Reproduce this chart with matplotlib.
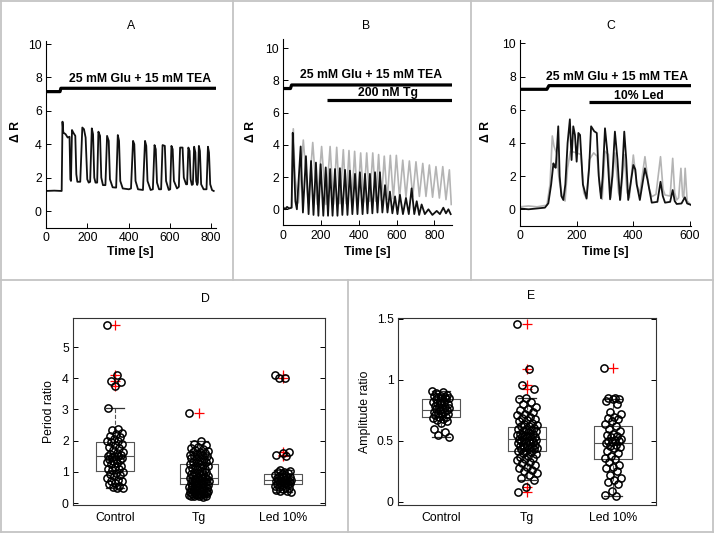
import numpy as np
import matplotlib
matplotlib.use("Agg")
import matplotlib.pyplot as plt
from matplotlib.lines import Line2D

plt.rcParams['font.family'] = ['Liberation Sans', 'DejaVu Sans']
plt.rcParams['font.size'] = 8.8

W, H = 714, 533

# ---- panel A: single trace (time [s], dR) ----
a_t = [0, 40, 76, 80, 84, 95, 105, 114, 118,
       121, 126, 132, 142, 147, 152, 166,
       176, 184, 192, 200, 207, 214,
       222, 228, 234, 240, 248,
       254, 262, 268, 276, 288,
       296, 304, 310, 323, 340,
       348, 354, 360, 372, 402, 412,
       422, 428, 434, 446, 470,
       480, 486, 492, 507, 518,
       526, 532, 538, 548, 558,
       565, 576, 582, 595, 602,
       608, 614, 620, 635, 644,
       650, 662, 668, 679, 684,
       690, 696, 701, 707, 712,
       718, 724, 728, 733, 736,
       741, 746, 752, 764, 778,
       785, 790, 796, 805, 813]
a_v = [1.2, 1.22, 1.2, 5.35, 4.7, 4.6, 4.4, 4.45, 1.9,
       1.8, 4.85, 4.7, 4.5, 2.2, 1.75, 1.75,
       5.0, 4.9, 4.4, 1.9, 1.7, 1.75,
       4.95, 4.6, 2.0, 1.7, 1.7,
       4.75, 4.5, 2.0, 1.55, 1.55,
       4.5, 4.2, 1.9, 1.42, 1.4,
       4.55, 4.2, 1.8, 1.35, 1.3, 1.35,
       4.2, 4.0, 1.8, 1.3, 1.26,
       4.2, 3.9, 1.8, 1.26, 1.3,
       3.95, 3.7, 1.7, 1.3, 1.3,
       3.95, 3.9, 1.8, 1.26, 1.3,
       3.9, 3.7, 1.8, 1.35, 1.45,
       3.8, 3.8, 2.0, 1.6, 1.6,
       3.8, 3.6, 1.9, 1.56, 1.6,
       3.85, 3.5, 1.8, 1.56, 1.7,
       3.9, 3.6, 1.6, 1.3, 1.3,
       3.85, 3.5, 1.6, 1.25, 1.2]
a_bar_t = [0, 68, 72, 825]
a_bar_v = [7.15, 7.15, 7.35, 7.35]

# ---- panel B: two traces ----
b_gray_t = [0, 44, 53, 62, 80, 106, 132, 156, 180, 203, 226, 248, 266, 283, 300,
            318, 333, 348, 363, 378, 394, 410, 426, 442, 458, 474, 490, 505, 520,
            535, 551, 567, 583, 599, 616, 633, 650, 668, 686, 703, 721, 739, 756,
            774, 791, 809, 827, 845, 862, 880, 890]
b_gray_v = [0.1, 0.1, 5.0, 2.0, 0.4, 4.3, 0.4, 4.15, 0.3, 3.9, 0.3, 3.9, 0.3, 3.85, 0.35,
            3.7, 0.35, 3.65, 0.4, 3.6, 0.4, 3.5, 0.45, 3.5, 0.5, 3.5, 0.5, 3.4, 0.55,
            3.3, 0.6, 3.35, 0.65, 3.35, 0.7, 3.05, 0.75, 3.0, 0.8, 2.95, 0.8, 2.85, 0.8,
            2.75, 0.75, 2.65, 0.7, 2.65, 0.6, 2.45, 0.3]
b_black_t = [0, 10, 20, 30, 44, 50, 56, 64, 72, 92, 104, 120, 134, 147, 160, 173, 186,
             198, 212, 225, 237, 248, 261, 274, 287, 300, 313, 327, 340, 353, 366, 380,
             393, 406, 420, 433, 446, 459, 472, 486, 499, 512, 525, 539, 552, 565, 578,
             592, 605, 618, 634, 650, 665, 680, 694, 707, 720, 733, 750, 769, 790, 813,
             830, 848, 862, 875, 887]
b_black_v = [0.1, 0.0, 0.15, 0.05, 0.1, 4.75, 3.0, 0.5, 0.0, 3.9, -0.2, 3.3, -0.3, 3.0, -0.35,
             2.9, -0.4, 2.8, -0.4, 2.6, -0.4, 2.5, -0.4, 2.5, -0.4, 2.55, -0.35, 2.45,
             -0.35, 2.4, -0.3, 2.2, -0.3, 2.3, -0.3, 2.2, -0.25, 2.2, -0.25, 2.3, -0.2,
             2.3, -0.2, 1.5, -0.2, 1.1, -0.25, 0.8, -0.3, 0.9, -0.3, 0.7, -0.3, 1.3,
             -0.3, 0.5, -0.35, 0.3, -0.3, 0.0, -0.35, -0.1, -0.3, 0.1, -0.25, 0.0, -0.3]
b_bar1_t = [0, 38, 44, 895]
b_bar1_v = [7.5, 7.5, 7.72, 7.72]
b_bar2_t = [230, 895]
b_bar2_v = [6.8, 6.8]

# ---- panel C: two traces ----
c_gray_t = [0, 30, 60, 95, 106, 114, 120, 129, 138, 150, 159, 168, 178, 200, 215, 225,
            235, 245, 260, 272, 282, 290, 300, 312, 320, 335, 348, 355, 368, 378, 386,
            400, 412, 423, 441, 455, 465, 480, 496, 505, 512, 530, 539, 546, 553, 560,
            568, 574, 578, 583, 590, 603]
c_gray_v = [0.15, 0.2, 0.15, 0.25, 1.5, 4.42, 3.8, 3.37, 1.8, 0.7, 0.5, 2.5, 3.5, 3.4, 3.3,
            1.0, 0.6, 3.0, 3.4, 3.2, 1.2, 0.6, 3.5, 3.3, 0.7, 3.4, 1.0, 0.6, 3.3, 1.0,
            0.7, 3.27, 1.5, 0.96, 3.17, 1.3, 0.76, 0.9, 3.17, 1.2, 0.86, 0.8, 3.07, 1.0,
            0.56, 0.7, 2.47, 0.8, 0.66, 2.47, 0.5, 0.26]
c_black_t = [0, 30, 60, 88, 100, 110, 118, 121, 126, 130, 135, 140, 146, 153, 160, 168,
             176, 182, 188, 194, 200, 206, 212, 222, 235, 244, 251, 262, 271, 278, 286,
             292, 300, 308, 318, 326, 335, 344, 353, 360, 368, 375, 382, 390, 400, 407,
             412, 423, 432, 441, 450, 465, 485, 496, 504, 512, 530, 539, 546, 553, 570,
             582, 590, 603]
c_black_v = [0.05, 0.0, 0.05, 0.1, 0.36, 1.5, 2.77, 2.6, 2.5, 3.5, 5.0, 2.0, 0.8, 0.56,
             1.5, 4.0, 5.42, 2.97, 5.0, 4.48, 2.87, 4.6, 4.48, 1.5, 0.66, 2.5, 5.0, 4.7,
             4.6, 2.0, 0.66, 2.0, 4.88, 3.5, 0.6, 2.0, 4.68, 3.0, 0.56, 2.0, 4.68, 3.0,
             0.56, 1.5, 2.67, 2.4, 1.5, 0.56, 1.5, 2.47, 1.8, 0.4, 0.45, 1.66, 0.8, 0.4,
             0.45, 1.16, 0.5, 0.32, 0.35, 0.72, 0.35, 0.27]
c_bar1_t = [0, 95, 102, 605]
c_bar1_v = [7.23, 7.23, 7.45, 7.45]
c_bar2_t = [243, 605]
c_bar2_v = [6.45, 6.45]

# ---- panel D: period ratio ----
groups = ['Control', 'Tg', 'Led 10%']
d_control = [5.7, 4.1, 3.9, 3.88, 3.75, 3.03, 2.38, 2.35, 2.25, 2.2, 2.15, 2.1, 2.05,
             2.0, 1.98, 1.95, 1.9, 1.85, 1.8, 1.75, 1.7, 1.65, 1.6, 1.58, 1.55, 1.52,
             1.5, 1.5, 1.48, 1.45, 1.42, 1.4, 1.38, 1.35, 1.3, 1.28, 1.25, 1.2, 1.15,
             1.1, 1.08, 1.05, 1.0, 0.95, 0.92, 0.9, 0.85, 0.8, 0.75, 0.72, 0.7, 0.65,
             0.6, 0.55, 0.5, 0.48, 0.47]
d_tg = [2.87, 2.0, 1.9, 1.85, 1.8, 1.75, 1.72, 1.7, 1.68, 1.65, 1.62, 1.6, 1.58, 1.55,
        1.55, 1.52, 1.5, 1.48, 1.45, 1.42, 1.4, 1.38, 1.35, 1.32, 1.3, 1.28, 1.25, 1.22,
        1.2, 1.18, 1.15, 1.12, 1.1, 1.08, 1.05, 1.02, 1.0, 0.98, 0.96, 0.94, 0.92, 0.9,
        0.88, 0.86, 0.85, 0.83, 0.82, 0.8, 0.79, 0.78, 0.77, 0.76, 0.75, 0.74, 0.72,
        0.7, 0.69, 0.68, 0.66, 0.65, 0.64, 0.62, 0.6, 0.59, 0.58, 0.56, 0.55, 0.54,
        0.52, 0.5, 0.49, 0.48, 0.46, 0.45, 0.44, 0.42, 0.4, 0.39, 0.38, 0.36, 0.35,
        0.34, 0.33, 0.32, 0.31, 0.3, 0.29, 0.28, 0.27, 0.26, 0.25, 0.24, 0.23, 0.22,
        0.21, 0.2]
d_led = [4.1, 4.02, 4.0, 1.65, 1.6, 1.55, 1.5, 1.05, 1.03, 1.0, 0.98, 0.95, 0.92, 0.9,
         0.88, 0.86, 0.84, 0.82, 0.8, 0.78, 0.76, 0.75, 0.74, 0.73, 0.72, 0.7, 0.69,
         0.68, 0.66, 0.65, 0.64, 0.62, 0.6, 0.58, 0.55, 0.52, 0.5, 0.48, 0.45, 0.42,
         0.4, 0.38, 0.35]
d_q1 = [1.03, 0.6, 0.62]
d_med = [1.5, 0.8, 0.75]
d_q3 = [1.97, 1.25, 0.92]
d_lo = [0.47, 0.2, 0.35]
d_hi = [3.03, 2.0, 1.05]
d_out = [[5.7, 4.1, 3.9, 3.75], [2.87], [4.1, 4.0, 1.65, 1.55, 1.5]]

# ---- panel E: amplitude ratio ----
e_control = [0.91, 0.9, 0.89, 0.88, 0.87, 0.87, 0.86, 0.86, 0.85, 0.85, 0.84, 0.84, 0.83,
             0.82, 0.82, 0.81, 0.8, 0.8, 0.79, 0.78, 0.78, 0.77, 0.76, 0.76, 0.75, 0.75,
             0.74, 0.74, 0.73, 0.72, 0.72, 0.71, 0.7, 0.7, 0.69, 0.68, 0.67, 0.66, 0.65,
             0.6, 0.57, 0.55, 0.53]
e_tg = [1.46, 1.09, 0.96, 0.93, 0.85, 0.84, 0.82, 0.8, 0.78, 0.76, 0.75, 0.74, 0.72,
        0.71, 0.7, 0.69, 0.68, 0.67, 0.66, 0.65, 0.64, 0.63, 0.62, 0.62, 0.61, 0.6, 0.6,
        0.59, 0.58, 0.58, 0.57, 0.56, 0.56, 0.55, 0.55, 0.54, 0.54, 0.53, 0.53, 0.52,
        0.52, 0.51, 0.51, 0.5, 0.5, 0.49, 0.49, 0.48, 0.48, 0.47, 0.47, 0.46, 0.46,
        0.45, 0.45, 0.44, 0.44, 0.43, 0.43, 0.42, 0.42, 0.41, 0.4, 0.39, 0.38, 0.37,
        0.36, 0.35, 0.34, 0.33, 0.32, 0.3, 0.29, 0.28, 0.26, 0.25, 0.24, 0.22, 0.2,
        0.18, 0.12, 0.08]
e_led = [1.1, 0.85, 0.85, 0.84, 0.84, 0.83, 0.8, 0.74, 0.72, 0.7, 0.69, 0.68, 0.66,
         0.64, 0.62, 0.6, 0.58, 0.56, 0.55, 0.54, 0.53, 0.52, 0.51, 0.5, 0.5, 0.49,
         0.48, 0.47, 0.46, 0.45, 0.44, 0.42, 0.4, 0.38, 0.36, 0.35, 0.33, 0.3, 0.29,
         0.28, 0.25, 0.22, 0.2, 0.18, 0.16, 0.15, 0.09, 0.06, 0.05]
e_q1 = [0.70, 0.42, 0.35]
e_med = [0.755, 0.515, 0.485]
e_q3 = [0.84, 0.615, 0.625]
e_lo = [0.53, 0.18, 0.05]
e_hi = [0.91, 0.85, 0.845]
e_out = [[], [1.46, 1.09, 0.96, 0.93, 0.12, 0.08], [1.1]]


def add_ax(fig, left, top, right, bottom):
    # axes placed by pixel edges
    return fig.add_axes([left / W, 1 - bottom / H, (right - left) / W, (bottom - top) / H])


def ftext(fig, x, y, s, **kw):
    fig.text(x / W, 1 - y / H, s, ha='center', va='center', **kw)


fig = plt.figure(figsize=(W / 100, H / 100), dpi=100)

# panel frames
gray_line = '#c4c4c4'
for seg in [((1, 1), (1, 532)), ((713, 713), (1, 532)), ((1, 713), (1, 1)), ((1, 713), (532, 532)),
            ((233, 233), (1, 280)), ((471, 471), (1, 280)), ((1, 713), (280, 280)),
            ((348, 348), (280, 532))]:
    xs, ys = seg
    fig.add_artist(Line2D([x / W for x in xs], [1 - y / H for y in ys], color=gray_line, lw=1.3))


def trace_axes(ax, xmax, xticks, ylim):
    ax.set_xlim(0, xmax)
    ax.set_ylim(*ylim)
    ax.set_xticks(xticks)
    ax.set_yticks([0, 2, 4, 6, 8, 10])
    ax.spines['top'].set_visible(False)
    ax.spines['right'].set_visible(False)
    for s in ['left', 'bottom']:
        ax.spines[s].set_linewidth(0.8)
    ax.tick_params(direction='in', length=3.5, width=0.7, labelsize=8.8, pad=3)


bold = dict(fontweight='bold', fontsize=8.8)
trace_black = dict(color='#111111', lw=1.3)
trace_gray = dict(color='#b4b4b4', lw=1.2)

# A
axA = add_ax(fig, 46, 40.7, 216.2, 227.7)
axA.plot(a_t, a_v, **trace_black)
axA.plot(a_bar_t, a_bar_v, color='black', lw=2.3, solid_capstyle='butt')
axA.text(456, 7.92, '25 mM Glu + 15 mM TEA', ha='center', va='center', **bold)
trace_axes(axA, 825, [0, 200, 400, 600, 800], (-1, 10.2))
ftext(fig, 131, 26, 'A')
ftext(fig, 130, 252, 'Time [s]', **bold)
ftext(fig, 16, 132, 'Δ R', rotation=90, **bold)

# B
axB = add_ax(fig, 283.3, 38.6, 452.2, 225.4)
axB.plot(b_gray_t, b_gray_v, **trace_gray)
axB.plot(b_black_t, b_black_v, **trace_black)
axB.plot(b_bar1_t, b_bar1_v, color='black', lw=2.3, solid_capstyle='butt')
axB.plot(b_bar2_t, b_bar2_v, color='black', lw=2.3, solid_capstyle='butt')
axB.text(463, 8.34, '25 mM Glu + 15 mM TEA', ha='center', va='center', **bold)
axB.text(556, 7.2, '200 nM Tg', ha='center', va='center', **bold)
trace_axes(axB, 895, [0, 200, 400, 600, 800], (-1, 10.6))
ftext(fig, 366, 26, 'B')
ftext(fig, 367, 252, 'Time [s]', **bold)
ftext(fig, 251, 132, 'Δ R', rotation=90, **bold)

# C
axC = add_ax(fig, 520, 40, 691.4, 225.9)
axC.plot(c_gray_t, c_gray_v, **trace_gray)
axC.plot(c_black_t, c_black_v, **trace_black)
axC.plot(c_bar1_t, c_bar1_v, color='black', lw=2.3, solid_capstyle='butt')
axC.plot(c_bar2_t, c_bar2_v, color='black', lw=2.3, solid_capstyle='butt')
axC.text(342, 7.99, '25 mM Glu + 15 mM TEA', ha='center', va='center', **bold)
axC.text(420, 6.83, '10% Led', ha='center', va='center', **bold)
trace_axes(axC, 605, [0, 200, 400, 600], (-1, 10.2))
ftext(fig, 611, 26, 'C')
ftext(fig, 605, 252, 'Time [s]', **bold)
ftext(fig, 486, 132, 'Δ R', rotation=90, **bold)


def jitter(n, spread):
    return ((np.arange(n) * 0.6180339887) % 1.0 - 0.5) * 2 * spread


def box_panel(ax, data, q1, med, q3, lo, hi, out, spreads):
    stats = []
    for i in range(3):
        stats.append(dict(med=med[i], q1=q1[i], q3=q3[i], whislo=lo[i], whishi=hi[i],
                          fliers=out[i], label=groups[i]))
    ax.bxp(stats, positions=[1, 2, 3], widths=0.45, capwidths=0.22, showfliers=True,
           boxprops=dict(color='#555555', lw=0.8),
           medianprops=dict(color='#555555', lw=0.8),
           whiskerprops=dict(color='#555555', lw=0.8, ls='--'),
           capprops=dict(color='#333333', lw=0.9),
           flierprops=dict(marker='+', markeredgecolor='red', markersize=7, markeredgewidth=0.9))
    for i, vals in enumerate(data):
        xs = (i + 1) + jitter(len(vals), spreads[i])
        ax.plot(xs, vals, 'o', mfc='none', mec='black', ms=5.2, mew=1.1, zorder=3)
    ax.set_xlim(0.5, 3.5)
    ax.tick_params(axis='x', length=0, labelsize=8.8, pad=5)
    ax.tick_params(axis='y', direction='in', length=3.5, width=0.7, labelsize=8.8,
                   right=True, pad=3)
    for s in ax.spines.values():
        s.set_linewidth(0.8)
        s.set_color('#333333')


# D
axD = add_ax(fig, 73, 318, 325, 505)
box_panel(axD, [d_control, d_tg, d_led], d_q1, d_med, d_q3, d_lo, d_hi, d_out,
          [0.1, 0.12, 0.1])
axD.set_ylim(-0.064, 5.93)
axD.set_yticks([0, 1, 2, 3, 4, 5])
ftext(fig, 205, 299, 'D')
ftext(fig, 49, 412, 'Period ratio', rotation=90)

# E
axE = add_ax(fig, 398, 318, 656, 505)
box_panel(axE, [e_control, e_tg, e_led], e_q1, e_med, e_q3, e_lo, e_hi, e_out,
          [0.1, 0.12, 0.1])
axE.set_ylim(-0.025, 1.508)
axE.set_yticks([0, 0.5, 1, 1.5])
axE.set_yticklabels(['0', '0.5', '1', '1.5'])
ftext(fig, 531, 296, 'E')
ftext(fig, 365, 412, 'Amplitude ratio', rotation=90)

fig.savefig('out.png', dpi=100)
